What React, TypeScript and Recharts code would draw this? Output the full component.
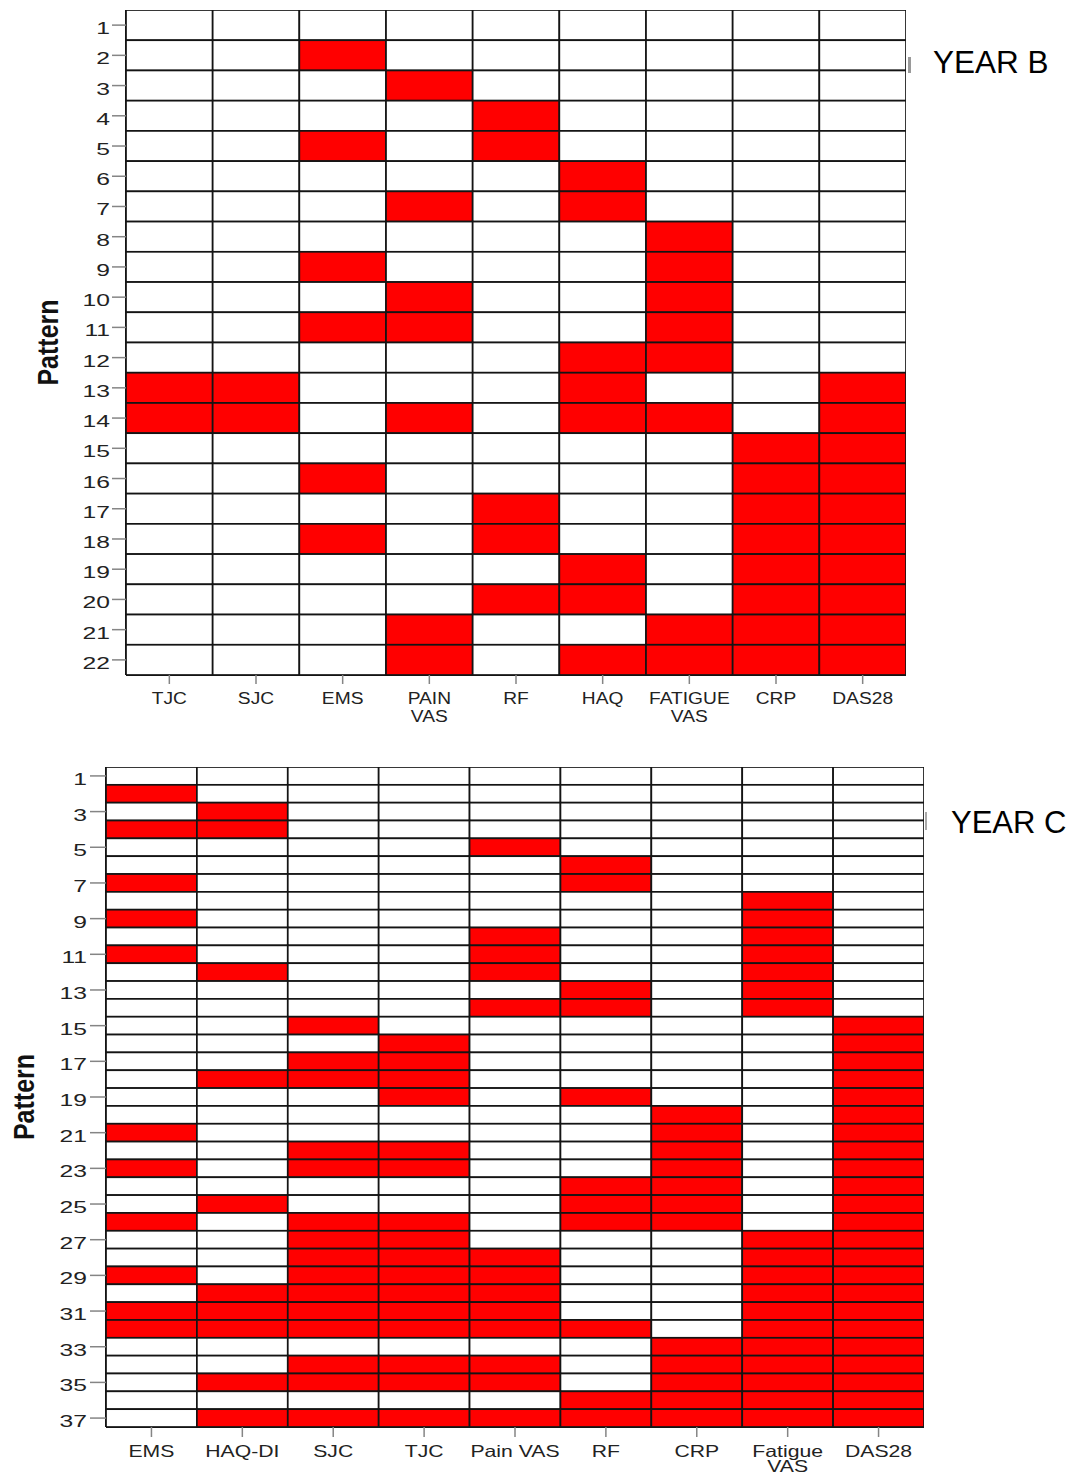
import React from "react";
import { ScatterChart, Scatter, XAxis, YAxis } from "recharts";

const FONT = '"Liberation Sans", Arial, Helvetica, sans-serif';
const RED = "#ff0000";
const LINE = "#141414";

// Year B: one string per pattern, one digit per column (1 = present)
const yearBColumns = ["TJC", "SJC", "EMS", "PAIN\nVAS", "RF", "HAQ", "FATIGUE\nVAS", "CRP", "DAS28"];
const yearBPatterns = [
  "000000000",
  "001000000",
  "000100000",
  "000010000",
  "001010000",
  "000001000",
  "000101000",
  "000000100",
  "001000100",
  "000100100",
  "001100100",
  "000001100",
  "110001001",
  "110101101",
  "000000011",
  "001000011",
  "000010011",
  "001010011",
  "000001011",
  "000011011",
  "000100111",
  "000101111",
];
const yearBTicks = [1, 2, 3, 4, 5, 6, 7, 8, 9, 10, 11, 12, 13, 14, 15, 16, 17, 18, 19, 20, 21, 22];

// Year C
const yearCColumns = ["EMS", "HAQ-DI", "SJC", "TJC", "Pain VAS", "RF", "CRP", "Fatigue\nVAS", "DAS28"];
const yearCPatterns = [
  "000000000",
  "100000000",
  "010000000",
  "110000000",
  "000010000",
  "000001000",
  "100001000",
  "000000010",
  "100000010",
  "000010010",
  "100010010",
  "010010010",
  "000001010",
  "000011010",
  "001000001",
  "000100001",
  "001100001",
  "011100001",
  "000101001",
  "000000101",
  "100000101",
  "001100101",
  "101100101",
  "000001101",
  "010001101",
  "101101101",
  "001100011",
  "001110011",
  "101110011",
  "011110011",
  "111110011",
  "111111011",
  "000000111",
  "001110111",
  "011110111",
  "000001111",
  "011111111",
];
const yearCTicks = [1, 3, 5, 7, 9, 11, 13, 15, 17, 19, 21, 23, 25, 27, 29, 31, 33, 35, 37];

type PanelProps = {
  columns: string[];
  patterns: string[];
  yTicks: number[];
  top: number;
  width: number;
  height: number;
  margin: { top: number; right: number; bottom: number; left: number };
  yAxisWidth: number;
  xAxisHeight: number;
  yTickSize: number;
  yTickMargin: number;
  xTickSize: number;
  xFont: number;
  xStretch: number;
  xFirstDy: number;
  xLineGap: number;
  labelX: number;
};

function PatternPanel(p: PanelProps) {
  const plotW = p.width - p.margin.left - p.margin.right - p.yAxisWidth;
  const plotH = p.height - p.margin.top - p.margin.bottom - p.xAxisHeight;
  const cellW = plotW / p.columns.length;
  const cellH = plotH / p.patterns.length;

  const cells = p.patterns.flatMap((row, r) =>
    row.split("").map((c, i) => ({ x: i + 1, y: r + 1, on: c === "1" }))
  );
  const xTicks = p.columns.map((_, i) => i + 1);

  const drawCell = (props: any) => {
    const { cx, cy, payload } = props;
    return (
      <rect
        x={cx - cellW / 2}
        y={cy - cellH / 2}
        width={cellW}
        height={cellH}
        fill={payload.on ? RED : "#ffffff"}
        stroke={LINE}
        strokeWidth={1.7}
      />
    );
  };

  const XTick = (props: any) => {
    const { x, y, payload } = props;
    const lines = (p.columns[payload.value - 1] || "").split("\n");
    return (
      <g transform={`translate(${x},${y})`}>
        <text
          textAnchor="middle"
          transform={`scale(${p.xStretch},1)`}
          fontSize={p.xFont}
          fontFamily={FONT}
          fill="#222"
        >
          {lines.map((l, i) => (
            <tspan key={i} x={0} y={p.xFirstDy + i * p.xLineGap}>
              {l}
            </tspan>
          ))}
        </text>
      </g>
    );
  };

  const YTick = (props: any) => {
    const { x, y, payload } = props;
    return (
      <g transform={`translate(${x},${y + 9})`}>
        <text textAnchor="end" transform="scale(1.45,1)" fontSize={17} fontFamily={FONT} fill="#222">
          {payload.value}
        </text>
      </g>
    );
  };

  const renderLabel = (props: any) => {
    const vb = props.viewBox || { y: 0, height: 0 };
    const cy = vb.y + vb.height / 2;
    return (
      <text
        transform={`translate(${p.labelX},${cy}) rotate(-90) scale(1,1.2)`}
        textAnchor="middle"
        fontSize={25}
        fontWeight="bold"
        fontFamily={FONT}
        fill="#111"
      >
        Pattern
      </text>
    );
  };

  return (
    <div style={{ position: "absolute", left: 0, top: p.top }}>
      <ScatterChart width={p.width} height={p.height} margin={p.margin}>
        <XAxis
          type="number"
          dataKey="x"
          domain={[0.5, p.columns.length + 0.5]}
          allowDataOverflow
          ticks={xTicks}
          interval={0}
          height={p.xAxisHeight}
          tickSize={p.xTickSize}
          tickMargin={2}
          tick={<XTick />}
          tickLine={{ stroke: "#858585", strokeWidth: 1.5 }}
          axisLine={{ stroke: LINE, strokeWidth: 2 }}
        />
        <YAxis
          type="number"
          dataKey="y"
          domain={[0.5, p.patterns.length + 0.5]}
          allowDataOverflow
          reversed
          ticks={p.yTicks}
          interval={0}
          width={p.yAxisWidth}
          tickSize={p.yTickSize}
          tickMargin={p.yTickMargin}
          tick={<YTick />}
          tickLine={{ stroke: "#858585", strokeWidth: 1.5 }}
          axisLine={{ stroke: LINE, strokeWidth: 2 }}
          label={{ value: "Pattern", content: renderLabel }}
        />
        <Scatter data={cells} shape={drawCell} isAnimationActive={false} />
      </ScatterChart>
    </div>
  );
}

export default function App() {
  return (
    <div
      style={{
        position: "absolute",
        left: 0,
        top: 0,
        width: 1075,
        height: 1476,
        background: "#ffffff",
        fontFamily: FONT,
        overflow: "hidden",
      }}
    >
      <PatternPanel
        columns={yearBColumns}
        patterns={yearBPatterns}
        yTicks={yearBTicks}
        top={0}
        width={1075}
        height={740}
        margin={{ top: 10, right: 169, bottom: 0, left: 0 }}
        yAxisWidth={126}
        xAxisHeight={65}
        yTickSize={14}
        yTickMargin={2}
        xTickSize={9}
        xFont={17}
        xStretch={1.13}
        xFirstDy={18}
        xLineGap={18}
        labelX={58}
      />
      <PatternPanel
        columns={yearCColumns}
        patterns={yearCPatterns}
        yTicks={yearCTicks}
        top={740}
        width={1075}
        height={736}
        margin={{ top: 27, right: 151, bottom: 0, left: 0 }}
        yAxisWidth={106}
        xAxisHeight={49}
        yTickSize={16}
        yTickMargin={3}
        xTickSize={10}
        xFont={16.3}
        xStretch={1.3}
        xFirstDy={17.7}
        xLineGap={15}
        labelX={33.5}
      />
      <div style={{ position: "absolute", left: 933, top: 46.5, fontSize: 31.5, lineHeight: 1, color: "#000", whiteSpace: "nowrap" }}>
        YEAR B
      </div>
      <div style={{ position: "absolute", left: 951, top: 807, fontSize: 31, lineHeight: 1, color: "#000", whiteSpace: "nowrap" }}>
        YEAR C
      </div>
      <div style={{ position: "absolute", left: 908, top: 57, width: 3, height: 16, background: "#9a9a9a" }} />
      <div style={{ position: "absolute", left: 925, top: 812, width: 2, height: 18, background: "#a8a8a8" }} />
    </div>
  );
}
